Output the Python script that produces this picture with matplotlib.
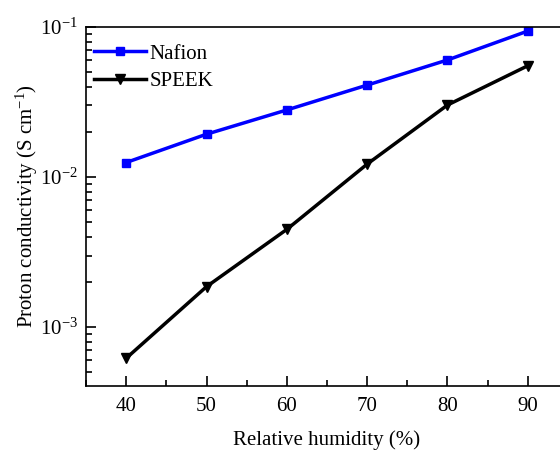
import matplotlib
matplotlib.use("Agg")
import matplotlib.pyplot as plt
from matplotlib.ticker import FixedLocator, LogFormatterSciNotation, MultipleLocator, NullFormatter

# Data
humidity = [40, 50, 60, 70, 80, 90]
nafion = [0.0125, 0.0193, 0.0280, 0.0410, 0.0603, 0.094]
speek = [6.2e-4, 1.86e-3, 4.48e-3, 0.0122, 0.0302, 0.0552]

plt.rcParams["font.family"] = ["Liberation Serif", "DejaVu Serif"]
plt.rcParams["mathtext.fontset"] = "custom"
plt.rcParams["mathtext.rm"] = "Liberation Serif"
plt.rcParams["mathtext.it"] = "Liberation Serif:italic"
plt.rcParams["font.size"] = 15

fig = plt.figure(figsize=(5.6, 4.5), dpi=100)
ax = fig.add_axes([86 / 560, 64 / 450, 482 / 560, 359 / 450])

ax.plot(humidity, nafion, color="#0000ff", lw=2.5, marker="s", ms=6, label="Nafion")
ax.plot(humidity, speek, color="black", lw=2.5, marker="v", ms=7, label="SPEEK")

ax.set_yscale("log")
ax.set_xlim(35, 95)
ax.set_ylim(4.05e-4, 0.1)

ax.xaxis.set_major_locator(MultipleLocator(10))
ax.xaxis.set_minor_locator(MultipleLocator(5))
major_y = [1e-3, 1e-2, 1e-1]
minor_y = [k * 10.0 ** e for e in (-4, -3, -2) for k in range(2, 10)]
ax.yaxis.set_major_locator(FixedLocator(major_y))
ax.yaxis.set_minor_locator(FixedLocator(minor_y))
ax.yaxis.set_major_formatter(LogFormatterSciNotation())
ax.yaxis.set_minor_formatter(NullFormatter())

ax.tick_params(which="both", direction="in", top=False, right=False, labelsize=15)
ax.tick_params(which="major", length=7, width=1.2)
ax.tick_params(which="minor", length=4.5, width=1.2)
ax.tick_params(axis="x", pad=8)
ax.tick_params(axis="y", pad=6)
for side in ax.spines.values():
    side.set_linewidth(1.2)

ax.set_xlabel("Relative humidity (%)", fontsize=15, labelpad=10)
ax.set_ylabel("Proton conductivity (S cm$^{-1}$)", fontsize=15, labelpad=0)

ax.legend(loc="upper left", bbox_to_anchor=(0.0, 0.976), frameon=False,
          fontsize=15, handlelength=2.5, handletextpad=0.15,
          labelspacing=0.4, borderaxespad=0)

fig.savefig("out.png", dpi=100)
